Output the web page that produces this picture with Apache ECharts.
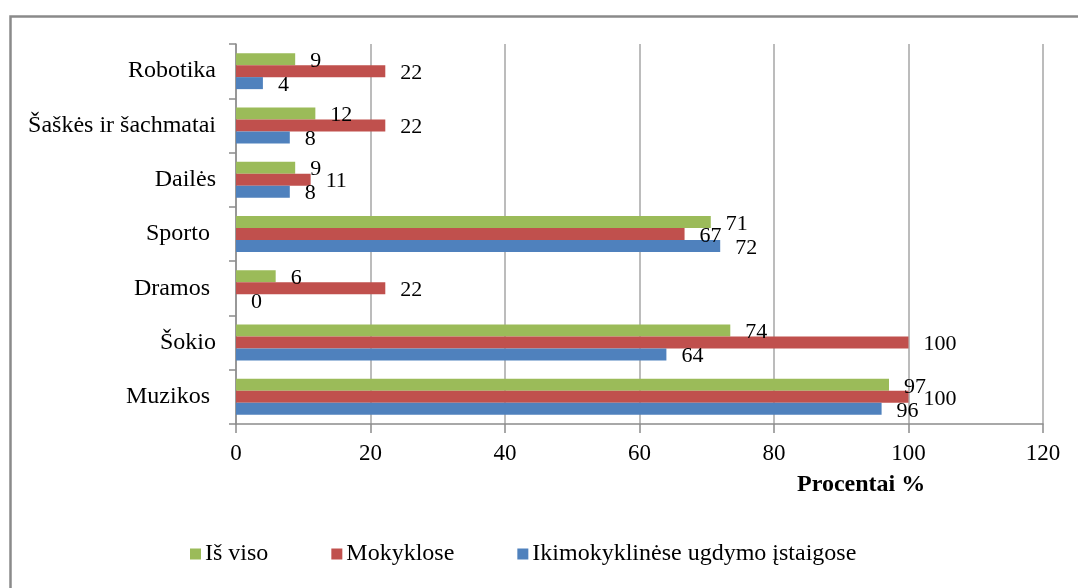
<!DOCTYPE html>
<html>
<head>
<meta charset="utf-8">
<script src="https://cdn.jsdelivr.net/npm/echarts@6/dist/echarts.min.js"></script>
<style>
  html, body { margin: 0; padding: 0; background: #fff; }
  #chart { width: 1078px; height: 588px; }
</style>
</head>
<body>
<div id="chart"></div>
<script>
// kategorijos (iš apačios į viršų)
var categories = ['Muzikos ', 'Šokio', 'Dramos ', 'Sporto ', 'Dailės', 'Šaškės ir šachmatai', 'Robotika'];
var seriesNames = ['Iš viso', 'Mokyklose', 'Ikimokyklinėse ugdymo įstaigose'];
// procentai
var isViso = [97.1, 73.5, 5.9, 70.6, 8.8, 11.8, 8.8];
var mokyklose = [100, 100, 22.2, 66.7, 11.1, 22.2, 22.2];
var ikimokyklinese = [96, 64, 0, 72, 8, 8, 4];
var xTicks = [0, 20, 40, 60, 80, 100, 120];

var font = '"Liberation Serif", "Times New Roman", serif';
var colors = ['#9BBB59', '#C0504D', '#4F81BD'];

var chart = echarts.init(document.getElementById('chart'));

function makeSeries(name, data, color) {
    return {
        name: name,
        type: 'bar',
        data: data,
        barWidth: 12,
        barGap: '0%',
        itemStyle: { color: color },
        label: {
            show: true,
            position: 'right',
            distance: 15,
            offset: [0, 2],
            color: '#000',
            fontFamily: font,
            fontSize: 22,
            formatter: function (p) { return Math.round(p.value); }
        }
    };
}

chart.setOption({
    animation: false,
    color: colors,
    textStyle: { fontFamily: font },
    graphic: [
        {
            type: 'rect',
            shape: { x: 10.5, y: 16.5, width: 1100, height: 600 },
            style: { fill: 'none', stroke: '#8a8a8a', lineWidth: 2.5 },
            z: -1
        },
        {
            type: 'text',
            left: 797,
            top: 473,
            style: {
                text: 'Procentai %',
                font: 'bold 24px ' + font,
                fill: '#000'
            }
        }
    ],
    legend: {
        data: seriesNames,
        left: 185,
        top: 537,
        icon: 'rect',
        itemWidth: 11,
        itemHeight: 11,
        itemGap: 63,
        textStyle: { fontFamily: font, fontSize: 24, color: '#000', padding: [0, 0, 0, -1] }
    },
    grid: {
        left: 236,
        right: 35,
        top: 44,
        bottom: 164
    },
    xAxis: {
        type: 'value',
        min: xTicks[0],
        max: xTicks[xTicks.length - 1],
        interval: 20,
        axisLine: { show: true, lineStyle: { color: '#8c8c8c', width: 1.5 } },
        axisTick: { show: true, length: 9, lineStyle: { color: '#8c8c8c', width: 1.5 } },
        axisLabel: { margin: 18, color: '#000', fontFamily: font, fontSize: 23 },
        splitLine: { show: true, lineStyle: { color: '#a6a6a6', width: 1.5 } }
    },
    yAxis: {
        type: 'category',
        data: categories,
        axisLine: { show: true, lineStyle: { color: '#8c8c8c', width: 1.5 } },
        axisTick: { show: true, length: 7, lineStyle: { color: '#8c8c8c', width: 1.5 } },
        axisLabel: { margin: 20, color: '#000', fontFamily: font, fontSize: 24 }
    },
    series: [
        makeSeries(seriesNames[0], isViso, colors[0]),
        makeSeries(seriesNames[1], mokyklose, colors[1]),
        makeSeries(seriesNames[2], ikimokyklinese, colors[2])
    ]
});
</script>
</body>
</html>
